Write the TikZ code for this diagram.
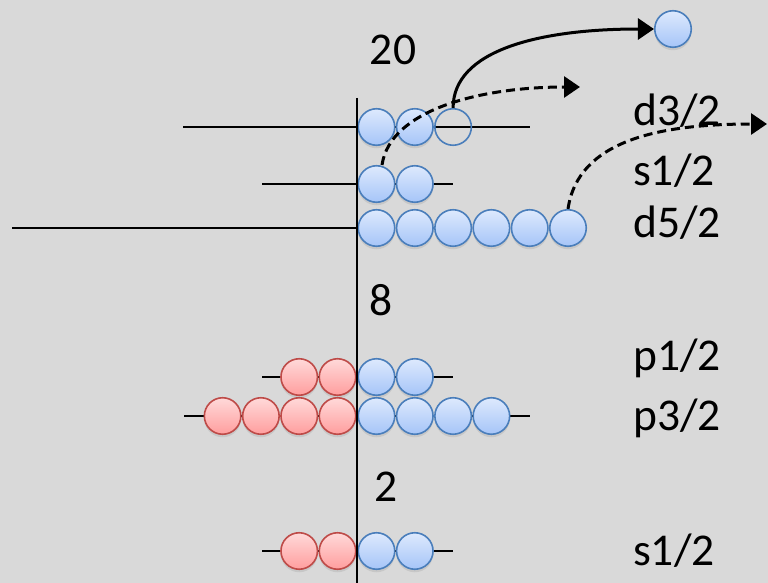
\documentclass[tikz,border=0pt]{standalone}
\usepackage{fontspec}
\setmainfont{Carlito}
\usetikzlibrary{arrows.meta,shadows}
\definecolor{bg}{HTML}{D9D9D9}
\definecolor{bluedraw}{HTML}{4A7EBB}
\definecolor{bluetop}{HTML}{DDE9FD}
\definecolor{bluebot}{HTML}{A6C5F8}
\definecolor{reddraw}{HTML}{BE4B48}
\definecolor{redtop}{HTML}{FFD9D9}
\definecolor{redbot}{HTML}{FF9E9E}
\begin{document}
\begin{tikzpicture}[x=1pt,y=-1pt,
  ball/.style={circle, minimum size=36.5pt, inner sep=0pt, line width=1.6pt,
    drop shadow={opacity=0.2, shadow xshift=0pt, shadow yshift=-3pt}},
  blueball/.style={ball, draw=bluedraw, top color=bluetop, bottom color=bluebot},
  redball/.style={ball, draw=reddraw, top color=redtop, bottom color=redbot},
  emptyball/.style={circle, minimum size=36.5pt, inner sep=0pt, line width=1.6pt, draw=bluedraw},
  level/.style={line width=1.6pt, black},
  axisline/.style={line width=1.6pt, black},
  lbl/.style={font=\fontsize{45.5}{52}\selectfont, inner sep=0pt},
  solidarrow/.style={line width=3pt, -{Triangle[length=16pt,width=21pt]}},
  dasharrow/.style={line width=3pt, dash pattern=on 9pt off 5pt, -{Triangle[length=16pt,width=21pt]}}
]
\fill[bg] (0,0) rectangle (768,583);
\useasboundingbox (0,0) rectangle (768,583);

% level lines
\coordinate (l1a) at (183,127); \coordinate (l1b) at (530,127);
\coordinate (l2a) at (262,184); \coordinate (l2b) at (453,184);
\coordinate (l3a) at (12,228);  \coordinate (l3b) at (357,228);
\coordinate (l4a) at (262,377); \coordinate (l4b) at (453,377);
\coordinate (l5a) at (184,416); \coordinate (l5b) at (530,416);
\coordinate (l6a) at (262,551); \coordinate (l6b) at (453,551);
\draw[level] (l1a) -- (l1b);
\draw[level] (l2a) -- (l2b);
\draw[level] (l3a) -- (l3b);
\draw[level] (l4a) -- (l4b);
\draw[level] (l5a) -- (l5b);
\draw[level] (l6a) -- (l6b);

% d3/2 row
\node[blueball] (a1) at (376.5,127) {};
\node[blueball] (a2) at (414.8,127) {};
\node[emptyball] (a3) at (453.1,127) {};
% s1/2 row
\node[blueball] (b1) at (376.5,184) {};
\node[blueball] (b2) at (414.8,184) {};
% d5/2 row
\node[blueball] (c1) at (376.5,228) {};
\node[blueball] (c2) at (414.8,228) {};
\node[blueball] (c3) at (453.1,228) {};
\node[blueball] (c4) at (491.4,228) {};
\node[blueball] (c5) at (529.7,228) {};
\node[blueball] (c6) at (568.0,228) {};
% p1/2 row
\node[redball] (d1) at (299.2,377) {};
\node[redball] (d2) at (337.5,377) {};
\node[blueball] (d3) at (376.5,377) {};
\node[blueball] (d4) at (414.8,377) {};
% p3/2 row
\node[redball] (e1) at (222.6,416) {};
\node[redball] (e2) at (260.9,416) {};
\node[redball] (e3) at (299.2,416) {};
\node[redball] (e4) at (337.5,416) {};
\node[blueball] (e5) at (376.5,416) {};
\node[blueball] (e6) at (414.8,416) {};
\node[blueball] (e7) at (453.1,416) {};
\node[blueball] (e8) at (491.4,416) {};
% s1/2 bottom row
\node[redball] (f1) at (299.2,551) {};
\node[redball] (f2) at (337.5,551) {};
\node[blueball] (f3) at (376.5,551) {};
\node[blueball] (f4) at (414.8,551) {};

% emitted nucleon
\node[blueball] (top) at (673,29) {};

% axis
\coordinate (axtop) at (357,98);
\coordinate (axbot) at (357,583);
\draw[axisline] (axtop) -- (axbot);

% magic numbers
\node[lbl] (n20) at (393,50) {20};
\node[lbl] (n8) at (381,300) {8};
\node[lbl] (n2) at (386,487) {2};

% level labels
\node[lbl, anchor=base west] (t1) at (633,125) {d3/2};
\node[lbl, anchor=base west] (t2) at (633,185) {s1/2};
\node[lbl, anchor=base west] (t3) at (633,237) {d5/2};
\node[lbl, anchor=base west] (t4) at (633,370) {p1/2};
\node[lbl, anchor=base west] (t5) at (633,430) {p3/2};
\node[lbl, anchor=base west] (t6) at (633,565) {s1/2};

% arrows
\coordinate (dend1) at (580,87);
\coordinate (dend2) at (767,124);
\draw[solidarrow] (a3.north) .. controls (453,50) and (540,29) .. (top.west);
\draw[dasharrow] (382,165) .. controls (390,110) and (480,87) .. (dend1);
\draw[dasharrow] (c6.north) .. controls (578,140) and (660,124) .. (dend2);
\end{tikzpicture}
\end{document}
